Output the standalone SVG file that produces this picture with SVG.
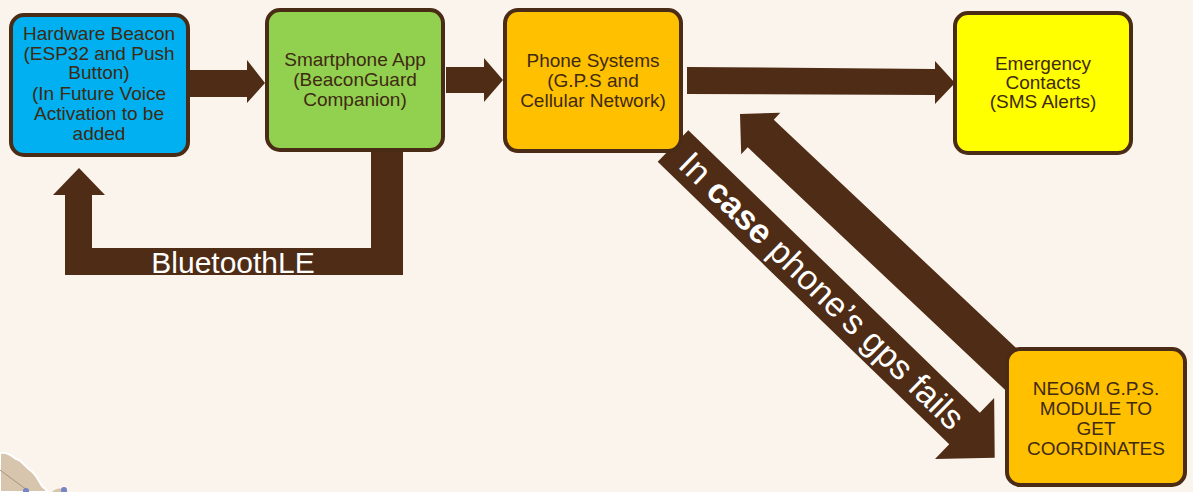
<svg xmlns="http://www.w3.org/2000/svg" width="1193" height="492" viewBox="0 0 1193 492">
<style>
.box{stroke:#4A2B16;stroke-width:4}
.arr{fill:#4F2C15}
.t{font-family:"Liberation Sans",Arial,sans-serif;font-size:19px;fill:#3F2A12;text-anchor:middle}
.w{font-family:"Liberation Sans",Arial,sans-serif;fill:#FFFFFF}
</style>
<rect width="1193" height="492" fill="#FBF4EC"/>
<g id="decoration">
<path d="M0,453 C8,452 12,456 16,459 C22,460 24,466 30,470 C36,474 38,480 42,486 C45,489 47,490 48,492 L0,492 Z" fill="#D8C5AD" stroke="#FFFFFF" stroke-width="2"/>
<path d="M0,470 L27,490" stroke="#A89580" stroke-width="1" fill="none"/>
<path d="M52,492 C56,488 62,487 68,492 Z" fill="#D8C5AD"/>
<circle cx="26" cy="491" r="3" fill="#7484C4"/>
<circle cx="64" cy="490" r="3" fill="#7484C4"/>
</g>
<g id="connectors">
<polygon class="arr" points="190,70 247,70 247,60 265,83 247,103 247,97 190,97"/>
<polygon class="arr" points="446,67 484,67 484,58 503,80 484,102 484,93 446,93"/>
<polygon class="arr" points="687,67 935,69 935,61 955,83 935,104 935,95 687,94"/>
<polygon class="arr" points="371,152 403,152 403,275 65,275 65,195 53,195 79,168 105,195 92,195 92,248 371,248"/>
<text class="w" x="233" y="273" font-size="30" text-anchor="middle">BluetoothLE</text>
<g transform="translate(740,114) rotate(43.3)">
<polygon class="arr" points="0,0 28.5,-28.5 28.5,-19 400,-19 400,19 28.5,19 28.5,28.5"/>
</g>
<g transform="translate(673,146) rotate(44.1)">
<polygon class="arr" points="0,-22 406,-22 406,-42.5 448,0 406,42.5 406,22 0,22"/>
<text class="w" x="17" y="12" font-size="34.5">In <tspan font-weight="bold">case</tspan> phone’s gps fails</text>
</g>
</g>
<g id="hardware-beacon">
<rect class="box" x="11" y="15" width="177" height="140" rx="13" fill="#00B0F0"/>
<text class="t" x="99" y="40">Hardware Beacon</text>
<text class="t" x="99" y="60">(ESP32 and Push</text>
<text class="t" x="99" y="79">Button)</text>
<text class="t" x="99" y="100">(In Future Voice</text>
<text class="t" x="99" y="120">Activation to be</text>
<text class="t" x="99" y="140">added</text>
</g>
<g id="smartphone-app">
<rect class="box" x="267" y="10" width="176" height="140" rx="13" fill="#92D050"/>
<text class="t" x="355" y="66">Smartphone App</text>
<text class="t" x="355" y="86">(BeaconGuard</text>
<text class="t" x="355" y="106">Companion)</text>
</g>
<g id="phone-systems">
<rect class="box" x="505" y="10" width="176" height="141" rx="13" fill="#FFC000"/>
<text class="t" x="593" y="67">Phone Systems</text>
<text class="t" x="593" y="87">(G.P.S and</text>
<text class="t" x="593" y="107">Cellular Network)</text>
</g>
<g id="emergency-contacts">
<rect class="box" x="955" y="13" width="176" height="140" rx="13" fill="#FFFF00"/>
<text class="t" x="1043" y="70">Emergency</text>
<text class="t" x="1043" y="89">Contacts</text>
<text class="t" x="1043" y="108">(SMS Alerts)</text>
</g>
<g id="neo6m-module">
<rect class="box" x="1007" y="349" width="178" height="136" rx="13" fill="#FFC000"/>
<text class="t" x="1096" y="395" font-size="18.5">NEO6M G.P.S.</text>
<text class="t" x="1096" y="415" font-size="18.5">MODULE TO</text>
<text class="t" x="1096" y="435" font-size="18.5">GET</text>
<text class="t" x="1096" y="455" font-size="18.5">COORDINATES</text>
</g>
</svg>
